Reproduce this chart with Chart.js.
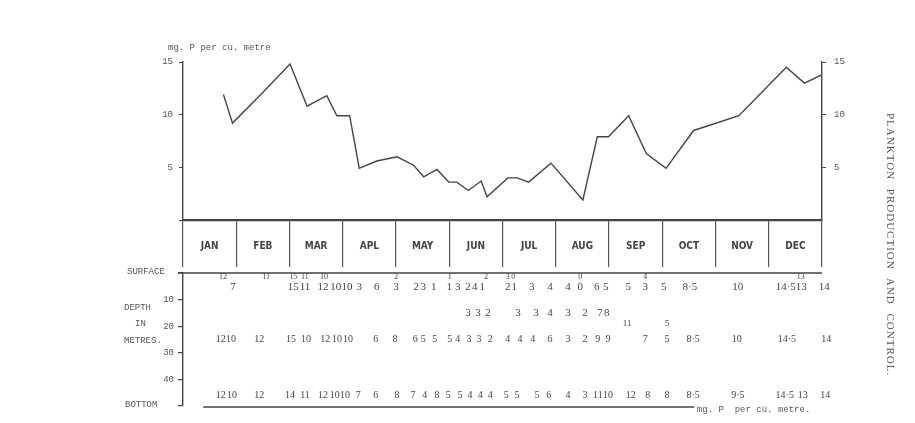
<!DOCTYPE html>
<html>
<head>
<meta charset="utf-8">
<script src="https://cdn.jsdelivr.net/npm/chart.js@4.4.0/dist/chart.umd.min.js"></script>
<style>
html, body {margin:0; padding:0; background:#fff; overflow:hidden;}
#wrap {position:relative; width:915px; height:423px;}
#wrap canvas {position:absolute; left:0; top:0;}
#side {position:absolute; left:885px; top:113px; writing-mode:vertical-rl; font:11px 'Liberation Serif', serif; letter-spacing:1px; word-spacing:5px; color:#555; white-space:nowrap;}
</style>
</head>
<body>
<div id="wrap">
<canvas id="depth" width="915" height="423"></canvas>
<canvas id="curve" width="915" height="423"></canvas>
<div id="side">PLANKTON PRODUCTION AND CONTROL.</div>
</div>
<script>
var months = ['JAN','FEB','MAR','APL','MAY','JUN','JUL','AUG','SEP','OCT','NOV','DEC'];
var yTicks = [5, 10, 15];
var depthTicks = [0, 10, 20, 30, 40, 50];

// sampling dates (months from 1 Jan) and mean phosphate, mg P per cu. metre
var sampleMonth = [0.76,0.93,1.48,2.01,2.33,2.70,2.89,3.13,3.31,3.64,4.02,4.33,4.52,4.77,4.99,5.14,5.36,5.60,5.71,
	6.10,6.28,6.49,6.91,7.51,7.78,7.99,8.37,8.70,9.07,9.59,10.44,11.33,11.67,12.0];
var phosphate = [11.9,9.2,12.0,14.8,10.8,11.8,9.9,9.9,4.9,5.6,6.0,5.2,4.1,4.8,3.6,3.6,2.8,3.7,2.2,
	4.0,4.0,3.6,5.4,1.9,7.9,7.9,9.9,6.3,4.9,8.5,9.9,14.5,13.0,13.8];

// readings written under the curve, one row per depth (metres)
var rowDepth = [1.6, 5.4, 15, 19, 25, 46];
var surfTopAt = [0.75,1.56,2.07,2.29,2.65,4.0,5.01,5.69,6.10,6.20,7.46,8.68,11.60];
var surfTop = ['12','11','15','11','10','2','1','2','3','0','0','4','13'];
var surfAt = [0.94,2.07,2.29,2.63,2.87,3.08,3.31,3.64,4.0,4.38,4.51,4.71,5.0,5.16,5.35,5.48,5.62,6.10,6.22,6.55,6.89,
	7.23,7.46,7.77,7.94,8.36,8.68,9.03,9.52,10.42,11.32,11.61,12.04];
var surf = ['7','15','11','12','10','10','3','6','3','2','3','1','1','3','2','4','1','2','1','3','4',
	'4','0','6','5','5','3','5','8·5','10','14·5','13','14'];
var midAt = [5.35,5.54,5.73,6.29,6.63,6.89,7.23,7.55,7.83,7.96];
var mid = ['3','3','2','3','3','4','3','2','7','8'];
var mid2At = [8.34,9.09];
var mid2 = ['11','5'];
var deepAt = [0.71,0.90,1.43,2.03,2.31,2.67,2.89,3.10,3.62,3.98,4.36,4.51,4.73,5.01,5.16,5.37,5.56,5.77,6.10,6.33,6.57,
	6.89,7.23,7.55,7.79,7.98,8.68,9.09,9.58,10.40,11.34,12.08];
var deep = ['12','10','12','15','10','12','10','10','6','8','6','5','5','5','4','3','3','2','4','4','4',
	'6','3','2','9','9','7','5','8·5','10','14·5','14'];
var bottomAt = [0.71,0.92,1.43,2.01,2.29,2.63,2.85,3.04,3.29,3.62,4.02,4.32,4.54,4.77,4.98,5.20,5.39,5.58,5.77,6.07,6.27,
	6.65,6.87,7.23,7.55,7.79,7.98,8.41,8.73,9.09,9.58,10.42,11.30,11.64,12.06];
var bottom = ['12','10','12','14','11','12','10','10','7','6','8','7','4','8','5','5','4','4','4','5','5',
	'5','6','4','3','11','10','12','8','8','8·5','9·5','14·5','13','14'];

var ink = '#555';
var mono = "'Liberation Mono', 'DejaVu Sans Mono', monospace";
var hand = "'Liberation Serif', 'DejaVu Serif', serif";

function row(at, labels, d, size){
	return {
		data: at.map(function(m){ return {x: m, y: rowDepth[d]}; }),
		labels: labels,
		fontSize: size,
		pointRadius: 0,
		showLine: false
	};
}

var curveDecor = {
	id: 'curveDecor',
	afterDraw: function(chart){
		var ctx = chart.ctx, a = chart.chartArea, x = chart.scales.x;
		ctx.save();
		ctx.fillStyle = ink;
		ctx.font = '9px ' + mono;
		ctx.textBaseline = 'middle';
		ctx.fillText('mg. P per cu. metre', a.left - 15, a.top - 14);
		ctx.font = "bold 10px 'Liberation Sans Narrow', 'DejaVu Sans Condensed', sans-serif";
		ctx.textAlign = 'center';
		ctx.fillStyle = '#444';
		for (var i = 0; i < months.length; i++) {
			ctx.fillText(months[i], x.getPixelForValue(i + 0.5), a.bottom + 26);
		}
		ctx.restore();
	}
};

var tableText = {
	id: 'tableText',
	afterDatasetsDraw: function(chart){
		var ctx = chart.ctx, a = chart.chartArea, x = chart.scales.x, y = chart.scales.y;
		ctx.save();
		ctx.textAlign = 'center';
		ctx.textBaseline = 'middle';
		ctx.fillStyle = '#444';
		chart.data.datasets.forEach(function(ds, i){
			ctx.font = ds.fontSize + 'px ' + hand;
			chart.getDatasetMeta(i).data.forEach(function(pt, j){
				ctx.fillText(ds.labels[j], pt.x, pt.y);
			});
		});
		// surface and bottom rules
		ctx.strokeStyle = '#444';
		ctx.lineWidth = 1.4;
		ctx.beginPath();
		ctx.moveTo(a.left - 5, a.top);
		ctx.lineTo(a.right, a.top);
		ctx.moveTo(x.getPixelForValue(0.38), a.bottom + 1);
		ctx.lineTo(x.getPixelForValue(9.6), a.bottom + 1);
		ctx.stroke();
		ctx.fillStyle = ink;
		ctx.textAlign = 'left';
		ctx.font = '9px ' + mono;
		ctx.fillText('SURFACE', a.left - 56, y.getPixelForValue(0) - 1);
		ctx.fillText('DEPTH', a.left - 59, y.getPixelForValue(13));
		ctx.fillText('IN', a.left - 48, y.getPixelForValue(19));
		ctx.fillText('METRES.', a.left - 59, y.getPixelForValue(25.5));
		ctx.fillText('BOTTOM', a.left - 58, y.getPixelForValue(50) - 1);
		ctx.fillText('mg. P  per cu. metre.', x.getPixelForValue(9.65), a.bottom + 4);
		ctx.restore();
	}
};

new Chart(document.getElementById('depth').getContext('2d'), {
	type: 'scatter',
	data: {
		datasets: [
			row(surfTopAt, surfTop, 0, 8),
			row(surfAt, surf, 1, 11),
			row(midAt, mid, 2, 11),
			row(mid2At, mid2, 3, 9),
			row(deepAt, deep, 4, 10),
			row(bottomAt, bottom, 5, 10)
		]
	},
	options: {
		responsive: false,
		animation: false,
		layout: {padding: {left: 143, right: 93, top: 273, bottom: 17}},
		plugins: {legend: {display: false}, tooltip: {enabled: false}},
		scales: {
			x: {type: 'linear', min: 0, max: 12, display: false},
			y: {
				reverse: true, min: 0, max: 50,
				afterFit: function(s){ s.width = 40; },
				afterBuildTicks: function(s){ s.ticks = depthTicks.map(function(v){ return {value: v}; }); },
				ticks: {color: ink, font: {family: mono, size: 9}, padding: 4,
					callback: function(v){ return (v === 0 || v === 50) ? '' : v; }},
				grid: {drawOnChartArea: false, tickLength: 5, color: '#444', lineWidth: 1.2},
				border: {color: '#444', width: 1.4}
			}
		}
	},
	plugins: [tableText]
});

new Chart(document.getElementById('curve').getContext('2d'), {
	type: 'line',
	data: {
		datasets: [{
			data: sampleMonth.map(function(m, i){ return {x: m, y: phosphate[i]}; }),
			borderColor: '#444',
			borderWidth: 1.4,
			pointRadius: 0,
			fill: false,
			tension: 0
		}]
	},
	options: {
		responsive: false,
		animation: false,
		layout: {padding: {left: 143, right: 53, top: 62, bottom: 203}},
		plugins: {legend: {display: false}, tooltip: {enabled: false}},
		scales: {
			x: {
				type: 'linear', min: 0, max: 12,
				afterFit: function(s){ s.height = 0; },
				ticks: {display: false, stepSize: 1},
				grid: {drawOnChartArea: false, tickLength: 47, color: '#555', lineWidth: 1.2},
				border: {color: '#444', width: 2.2}
			},
			y: {
				position: 'left', min: 0, max: 15,
				afterFit: function(s){ s.width = 40; },
				afterBuildTicks: function(s){ s.ticks = [0].concat(yTicks).map(function(v){ return {value: v}; }); },
				ticks: {color: ink, font: {family: mono, size: 9}, padding: 6, callback: function(v){ return v ? v : ''; }},
				grid: {drawOnChartArea: false, tickLength: 4, color: '#444'},
				border: {color: '#444', width: 1.4}
			},
			y2: {
				position: 'right', min: 0, max: 15,
				afterFit: function(s){ s.width = 40; },
				afterBuildTicks: function(s){ s.ticks = yTicks.map(function(v){ return {value: v}; }); },
				ticks: {color: ink, font: {family: mono, size: 9}, padding: 8},
				grid: {drawOnChartArea: false, tickLength: 4, color: '#444'},
				border: {color: '#444', width: 1.4}
			}
		}
	},
	plugins: [curveDecor]
});
</script>
</body>
</html>
